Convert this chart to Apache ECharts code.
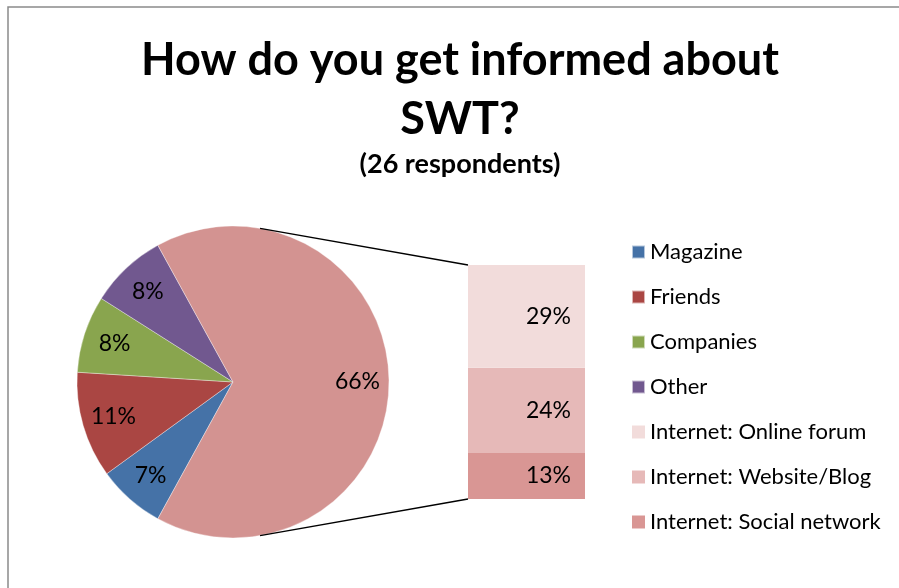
<!DOCTYPE html>
<html>
<head>
<meta charset="utf-8">
<style>
  html, body { margin: 0; padding: 0; background: #fff; }
  #chart { width: 899px; height: 588px; }
</style>
<script src="https://cdn.jsdelivr.net/npm/echarts@6/dist/echarts.min.js"></script>
</head>
<body>
<div id="chart"></div>
<script>
// Main pie: sources other than the internet
const categories = ['Magazine', 'Friends', 'Companies', 'Other'];
const pieValues = [7, 11, 8, 8];
const pieColors = ['#4572A7', '#AA4643', '#89A54E', '#71588F'];

// Internet slice, broken down in the stacked bar (bottom to top)
const internetName = 'Internet';
const internetParts = ['Internet: Social network', 'Internet: Website/Blog', 'Internet: Online forum'];
const internetValues = [13, 24, 29];
const internetColor = '#D39391';
const partColors = ['#D99694', '#E6B9B8', '#F2DCDB'];

const legendOrder = ['Magazine', 'Friends', 'Companies', 'Other',
  'Internet: Online forum', 'Internet: Website/Blog', 'Internet: Social network'];

const FONT = 'Lato, "Open Sans", sans-serif';
const internetTotal = internetValues.reduce((a, b) => a + b, 0);

// Pie layout
const PIE_CX = 233, PIE_CY = 382, PIE_R = 156;
// Bar layout
const BAR_LEFT = 468, BAR_TOP = 265, BAR_W = 117, BAR_H = 234;

const internetShare = internetTotal / (internetTotal + pieValues.reduce((a, b) => a + b, 0));
// Centre the internet slice on the right side, other slices run clockwise from its lower edge
const startAngle = -internetShare * 180;

const pieData = categories.map((name, i) => ({
  name, value: pieValues[i], itemStyle: { color: pieColors[i] }
})).concat([{ name: internetName, value: internetTotal, itemStyle: { color: internetColor } }]);

const colorByName = {};
categories.forEach((n, i) => colorByName[n] = pieColors[i]);
internetParts.forEach((n, i) => colorByName[n] = partColors[i]);

const chart = echarts.init(document.getElementById('chart'), null, { renderer: 'canvas' });

const option = {
  backgroundColor: '#fff',
  animation: false,
  title: {
    text: 'How do you get informed about\nSWT?',
    subtext: '(26 respondents)',
    left: 455,
    textAlign: 'center',
    top: 26,
    itemGap: 2,
    textStyle: { fontFamily: FONT, fontWeight: 'bold', fontSize: 45, lineHeight: 59, color: '#000' },
    subtextStyle: { fontFamily: FONT, fontWeight: 'bold', fontSize: 27, color: '#000' }
  },
  legend: {
    orient: 'vertical',
    left: 631,
    top: 241,
    padding: 0,
    itemWidth: 13,
    itemHeight: 13,
    itemGap: 23,
    icon: 'rect',
    selectedMode: false,
    textStyle: { fontFamily: FONT, fontSize: 22, lineHeight: 22, color: '#000' },
    data: legendOrder.map(n => ({ name: n, itemStyle: { color: colorByName[n] } }))
  },
  grid: { left: BAR_LEFT, top: BAR_TOP, width: BAR_W, height: BAR_H, containLabel: false },
  xAxis: { type: 'category', data: [''], show: false },
  yAxis: { type: 'value', min: 0, max: internetTotal, show: false },
  series: [
    {
      type: 'pie',
      name: 'sources',
      center: [PIE_CX, PIE_CY],
      radius: [0, PIE_R],
      startAngle: startAngle,
      clockwise: true,
      data: pieData,
      label: { show: false },
      labelLine: { show: false },
      itemStyle: { borderColor: 'rgba(255,255,255,0.6)', borderWidth: 0.6 },
      emphasis: { disabled: true }
    },
    {
      // transparent ring carrying the percentage labels at ~0.78 of the radius
      type: 'pie',
      name: 'labels',
      center: [PIE_CX, PIE_CY],
      radius: [87, PIE_R],
      startAngle: startAngle,
      clockwise: true,
      silent: true,
      data: pieData.map(d => ({ name: d.name, value: d.value, itemStyle: { color: 'rgba(0,0,0,0)' } })),
      label: {
        show: true, position: 'inside', formatter: '{c}%',
        fontFamily: FONT, fontSize: 23, color: '#000'
      },
      labelLine: { show: false },
      emphasis: { disabled: true },
      z: 3
    }
  ].concat(internetParts.map((name, i) => ({
    type: 'bar',
    name: name,
    stack: 'internet',
    barWidth: '100%',
    data: [internetValues[i]],
    itemStyle: { color: partColors[i] },
    label: {
      show: true, position: 'insideRight', distance: 14, formatter: '{c}%',
      fontFamily: FONT, fontSize: 23, color: '#000'
    },
    emphasis: { disabled: true }
  })))
};

chart.setOption(option);

// Frame and connector lines tangent to the pie from the bar corners
function tangentPoint(px, py, upper) {
  const dx = px - PIE_CX, dy = py - PIE_CY;
  const d = Math.sqrt(dx * dx + dy * dy);
  const phi = Math.atan2(dy, dx);
  const alpha = Math.acos(PIE_R / d);
  const a = upper ? phi - alpha : phi + alpha;
  return [PIE_CX + PIE_R * Math.cos(a), PIE_CY + PIE_R * Math.sin(a)];
}
const topY = chart.convertToPixel({ yAxisIndex: 0 }, internetTotal);
const botY = chart.convertToPixel({ yAxisIndex: 0 }, 0);
const tTop = tangentPoint(BAR_LEFT, topY, true);
const tBot = tangentPoint(BAR_LEFT, botY, false);

chart.setOption({
  graphic: [
    { type: 'polyline', silent: true, z: 10,
      shape: { points: [[8, 588], [8, 7], [899, 7]] },
      style: { stroke: '#8a8a8a', lineWidth: 1.5, fill: null } },
    { type: 'line', silent: true, z: 10,
      shape: { x1: tTop[0], y1: tTop[1], x2: BAR_LEFT, y2: topY },
      style: { stroke: '#000', lineWidth: 1.5 } },
    { type: 'line', silent: true, z: 10,
      shape: { x1: tBot[0], y1: tBot[1], x2: BAR_LEFT, y2: botY },
      style: { stroke: '#000', lineWidth: 1.5 } }
  ]
});
</script>
</body>
</html>
